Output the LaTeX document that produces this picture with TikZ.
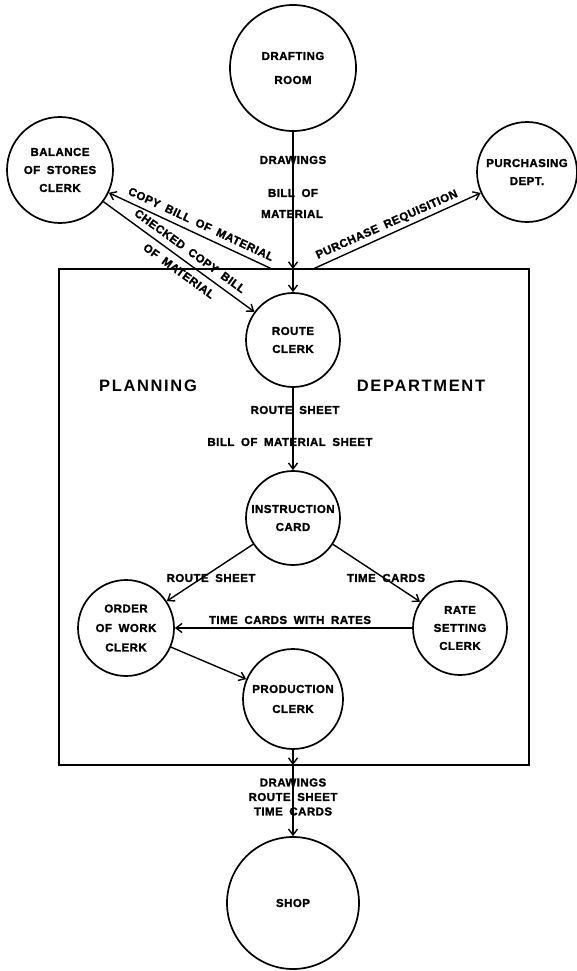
\documentclass[tikz,border=0pt]{standalone}
\usepackage{fontspec}
\setmainfont{Liberation Sans}
\newfontfamily\lblfont{Liberation Sans}[LetterSpace=4, WordSpace=1.8, FakeBold=1.5]
\newfontfamily\deptfont{Liberation Sans}[LetterSpace=10, WordSpace=1.5]
\usetikzlibrary{arrows.meta}

\begin{document}
\begin{tikzpicture}[x=1pt, y=-1pt,
  station/.style={circle, draw, line width=1.7pt, inner sep=0pt, align=center,
    font=\lblfont\bfseries\fontsize{11.5}{18}\selectfont},
  flow/.style={line width=1.4pt, -{Straight Barb[length=6pt, width=9pt]}},
  lbl/.style={inner sep=0pt, font=\lblfont\bfseries\fontsize{11.5}{14.5}\selectfont},
  dept/.style={inner sep=0pt, font=\deptfont\bfseries\fontsize{16.5}{20}\selectfont}
]
\useasboundingbox (0,0) rectangle (576,971);

% planning department enclosure
\coordinate (pdNW) at (59,269);
\coordinate (pdSE) at (529,765);
\draw[line width=1.4pt] (pdNW) rectangle (pdSE);
\coordinate (inTop) at (293,269);
\coordinate (c1) at (272,269);
\coordinate (c2) at (313,269);
\coordinate (outBot) at (293,765);

\node[dept] (plan) at (148,386) {PLANNING};
\node[dept] (dept) at (421,386) {DEPARTMENT};

% stations
\node[station, minimum size=126pt] (draft) at (293,68) {DRAFTING\\[6pt]ROOM};
\node[station, minimum size=106pt] (bal) at (60,170) {BALANCE\\OF STORES\\CLERK};
\node[station, minimum size=100pt] (purch) at (527,172) {PURCHASING\\DEPT.};
\node[station, minimum size=94pt] (route) at (293,340) {ROUTE\\CLERK};
\node[station, minimum size=94pt] (instr) at (293,518) {INSTRUCTION\\CARD};
\node[station, minimum size=96pt] (order) at (126,628) {ORDER\\[1.5pt]OF WORK\\[1.5pt]CLERK};
\node[station, minimum size=94pt] (rate) at (460,628) {RATE\\SETTING\\CLERK};
\node[station, minimum size=100pt] (prod) at (293,699) {PRODUCTION\\[2pt]CLERK};
\node[station, minimum size=132pt] (shop) at (293,903) {SHOP};

% flows
\draw[flow] (draft) -- (inTop);
\draw[flow] (inTop) -- (route);
\draw[flow] (c1) -- (bal);
\draw[flow] (c2) -- (purch);
\draw[flow] (bal) -- (route);
\draw[flow] (route) -- (instr);
\draw[flow] (instr) -- (order);
\draw[flow] (instr) -- (rate);
\draw[flow] (rate) -- (order);
\draw[flow] (order) -- (prod);
\draw[flow] (prod) -- (outBot);
\draw[flow] (outBot) -- (shop);

% flow labels
\node[lbl] (lDraw) at (293,160) {DRAWINGS};
\node[lbl] (lBill) at (293,193) {BILL OF};
\node[lbl] (lMat) at (292,214) {MATERIAL};
\node[lbl, rotate=-25] (lCopy) at (201,224) {COPY BILL OF MATERIAL};
\node[lbl, rotate=-36] (lChk) at (190,251) {CHECKED COPY BILL};
\node[lbl, rotate=-36] (lChk2) at (179,271) {OF MATERIAL};
\node[lbl, rotate=24] (lPur) at (387,225) {PURCHASE REQUISITION};
\node[lbl] (lRS) at (295,410) {ROUTE SHEET};
\node[lbl] (lBMS) at (290,442) {BILL OF MATERIAL SHEET};
\node[lbl] (lRS2) at (211,578) {ROUTE SHEET};
\node[lbl] (lTC) at (386,578) {TIME CARDS};
\node[lbl] (lTCR) at (290,620) {TIME CARDS WITH RATES};
\node[lbl, align=center] (lOut) at (293,797) {DRAWINGS\\ROUTE SHEET\\TIME CARDS};
\end{tikzpicture}
\end{document}
